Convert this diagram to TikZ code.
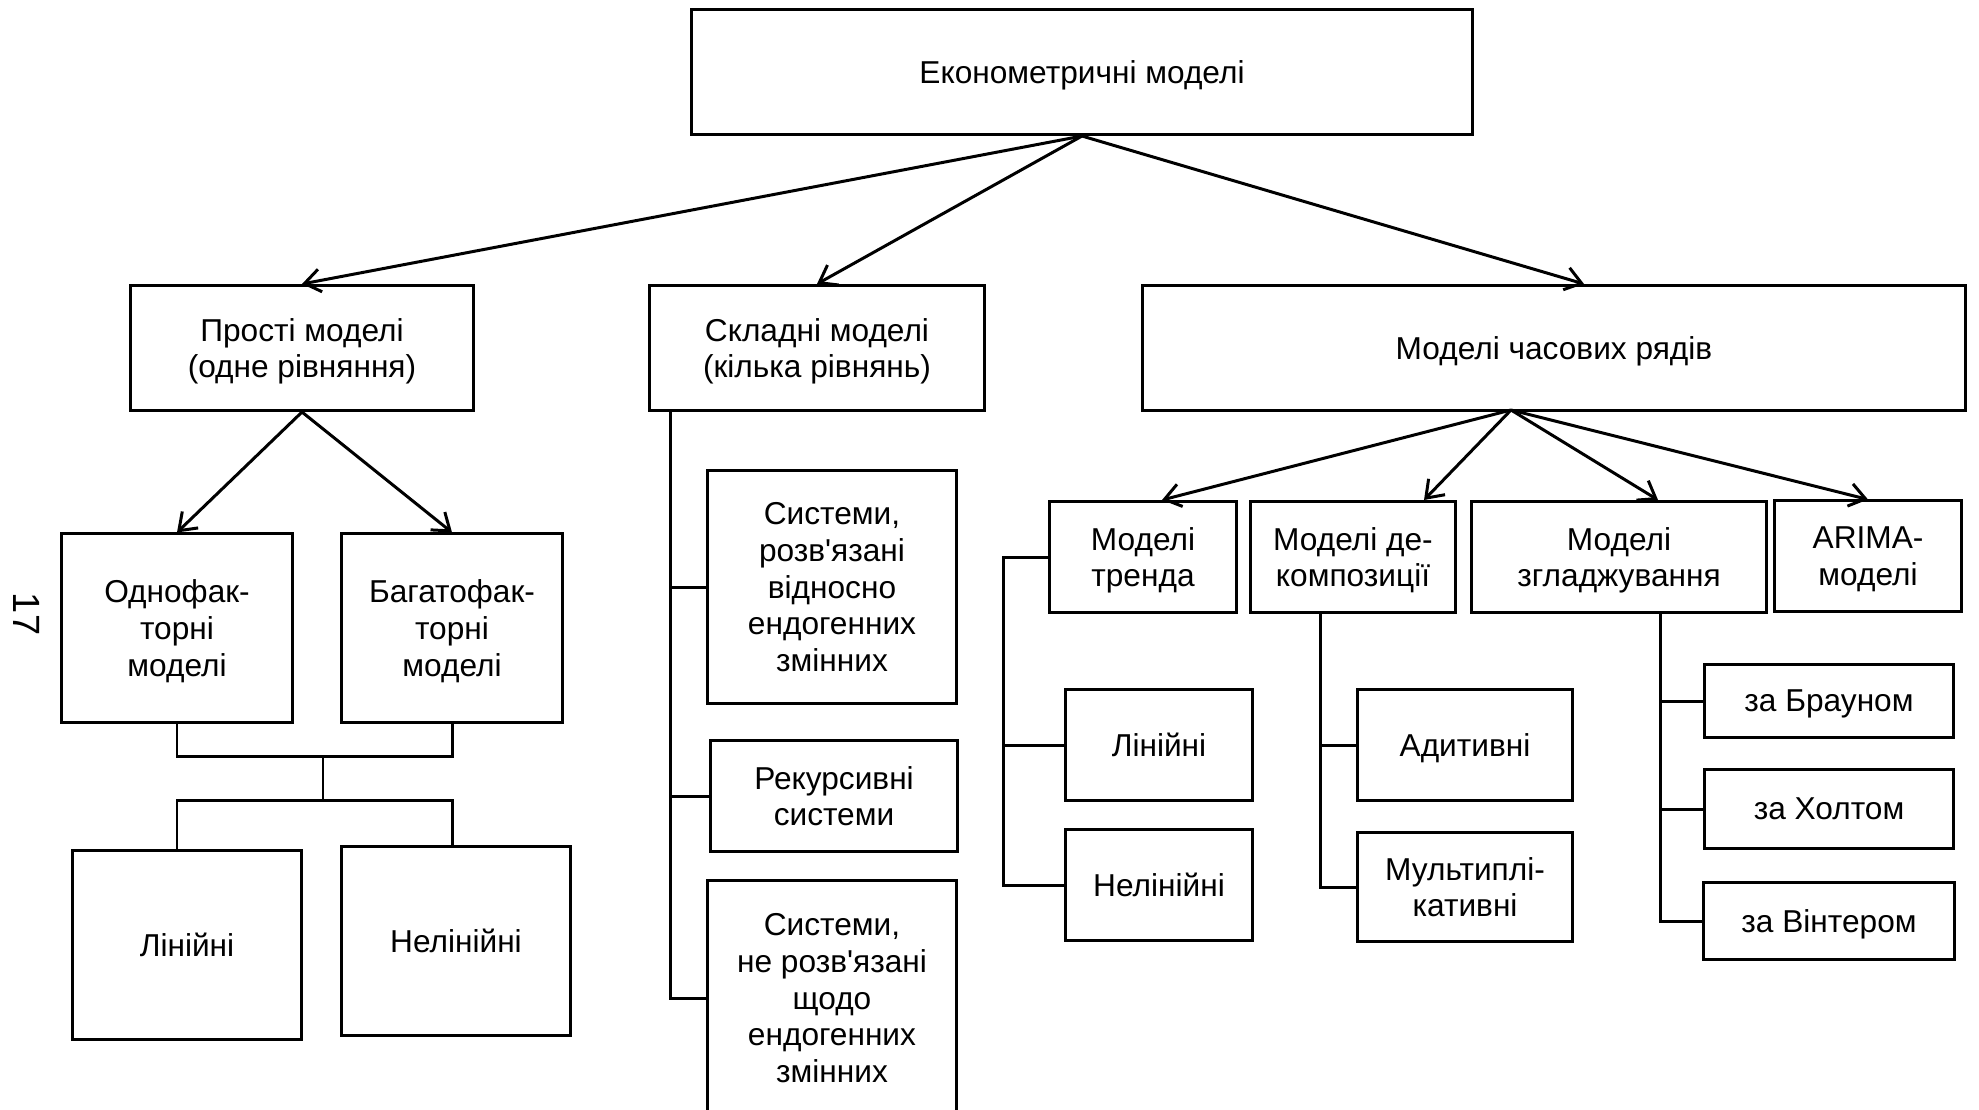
\documentclass[tikz,border=0pt]{standalone}
\usepackage{fontspec}
\setmainfont{Liberation Sans}[Ligatures=TeXOff]
\usetikzlibrary{arrows.meta}

\begin{document}
\begin{tikzpicture}[x=0.01cm,y=-0.01cm,line width=0.85pt,
  >={Straight Barb[length=4.5pt,width=6.5pt]},
  box/.style={draw,align=center,inner sep=0pt,text depth=0pt,font=\fontsize{9}{10.5}\selectfont},
  boxwh/.style 2 args={minimum width=#1,minimum height=#2}]

\useasboundingbox (0,0) rectangle (1979,1109);

% Seitenzahl
\node[rotate=-90,font=\fontsize{10.8}{12}\selectfont] (pnum) at (27,614) {17};

% oberste Ebene
\node[box,boxwh={7.81cm}{1.25cm}] (EM)  at (1082,72)  {Економетричні моделі};

\node[box,boxwh={3.43cm}{1.25cm}] (PM)  at (302,348)  {Прості моделі\\(одне рівняння)};
\node[box,boxwh={3.34cm}{1.25cm}] (SM)  at (817,348)  {Складні моделі\\(кілька рівнянь)};
\node[box,boxwh={8.22cm}{1.25cm}] (TS)  at (1554,348) {Моделі часових рядів};

\draw[->] (EM.south) -- (PM.north);
\draw[->] (EM.south) -- (SM.north);
\draw[->] (EM.south) -- ([xshift=0.30cm]TS.north);

% Прості моделі (links)
\node[box,boxwh={2.30cm}{1.88cm}] (OF)  at (177,628)  {Однофак-\\торні\\моделі};
\node[box,boxwh={2.21cm}{1.88cm}] (BF)  at (452,628)  {Багатофак-\\торні\\моделі};
\node[box,boxwh={2.29cm}{1.88cm}] (LinL) at (187,945) {Лінійні};
\node[box,boxwh={2.28cm}{1.89cm}] (NlL)  at (456,941) {Нелінійні};

\draw[->] (PM.south) -- (OF.north);
\draw[->] (PM.south) -- (BF.north);

\coordinate (jA) at (323,756);
\coordinate (jB) at (323,800);
\draw (OF.south) |- (jA) -| (BF.south);
\draw (jA) -- (jB);
\draw (LinL.north -| OF.south) |- (jB) -| (NlL.north -| BF.south);

% Складні моделі (Mitte)
\node[box,boxwh={2.49cm}{2.33cm}] (SysA) at (832,587) {Системи,\\розв'язані\\відносно\\ендогенних\\змінних};
\node[box,boxwh={2.46cm}{1.10cm}] (Rek)  at (834,796) {Рекурсивні\\системи};
\node[box,boxwh={2.49cm}{2.34cm}] (SysB) at (832,998) {Системи,\\не розв'язані\\щодо\\ендогенних\\змінних};

\coordinate (smT) at (670,410);
\draw (smT) |- (SysB.west);
\draw (smT |- SysA.west) -- (SysA.west);
\draw (smT |- Rek.west)  -- (Rek.west);

% Моделі часових рядів (rechts)
\node[box,boxwh={1.86cm}{1.11cm}] (TR) at (1143,557) {Моделі\\тренда};
\node[box,boxwh={2.04cm}{1.11cm}] (DC) at (1353,557) {Моделі де-\\композиції};
\node[box,boxwh={2.94cm}{1.11cm}] (ZG) at (1619,557) {Моделі\\згладжування};
\node[box,boxwh={1.86cm}{1.10cm}] (AR) at (1868,556) {ARIMA-\\моделі};

\coordinate (tsS) at (1511,410);
\draw[->] (tsS) -- ([xshift=0.19cm]TR.north);
\draw[->] (tsS) -- ([xshift=0.71cm]DC.north);
\draw[->] (tsS) -- ([xshift=0.39cm]ZG.north);
\draw[->] (tsS) -- (AR.north);

% тренд
\node[box,boxwh={1.86cm}{1.10cm}] (LinT) at (1159,745) {Лінійні};
\node[box,boxwh={1.86cm}{1.10cm}] (NlT)  at (1159,885) {Нелінійні};
\coordinate (trV) at (1003,885);
\draw (TR.west) -| (trV) -- (NlT.west);
\draw (trV |- LinT.west) -- (LinT.west);

% декомпозиція
\node[box,boxwh={2.15cm}{1.10cm}] (Add) at (1465,745) {Адитивні};
\node[box,boxwh={2.15cm}{1.09cm}] (Mul) at (1465,887) {Мультиплі-\\кативні};
\coordinate (dcV) at (1320,612);
\draw (dcV) |- (Mul.west);
\draw (dcV |- Add.west) -- (Add.west);

% згладжування
\node[box,boxwh={2.49cm}{0.72cm}] (Br) at (1829,701) {за Брауном};
\node[box,boxwh={2.49cm}{0.78cm}] (Ho) at (1829,809) {за Холтом};
\node[box,boxwh={2.50cm}{0.76cm}] (Wi) at (1829,921) {за Вінтером};
\coordinate (zgV) at (1660,612);
\draw (zgV) |- (Wi.west);
\draw (zgV |- Br.west) -- (Br.west);
\draw (zgV |- Ho.west) -- (Ho.west);

\end{tikzpicture}
\end{document}
